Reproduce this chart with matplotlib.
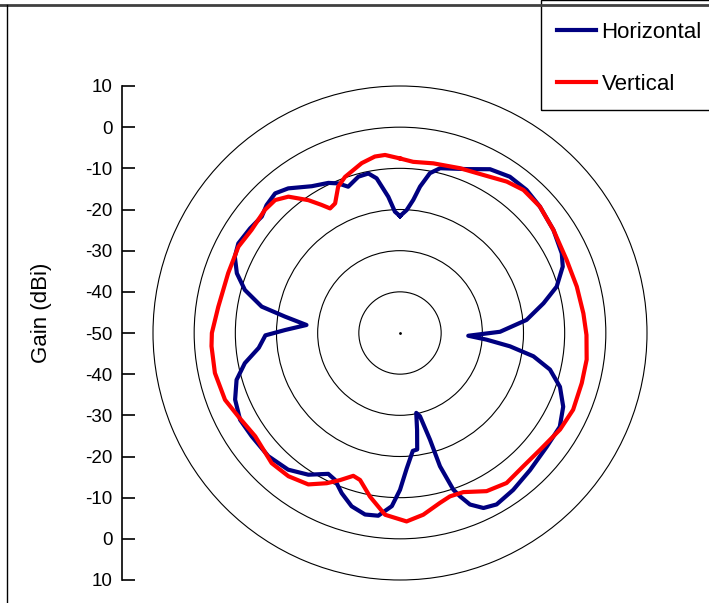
import numpy as np
import matplotlib
matplotlib.use("Agg")
import matplotlib.pyplot as plt
from matplotlib.lines import Line2D
from matplotlib.patches import Rectangle

plt.rcParams["font.family"] = ["Liberation Sans", "DejaVu Sans"]

# azimuth in degrees (0 = top, clockwise), gain in dBi
h_angle = [0, 3.1, 5.7, 7.8, 10.6, 13.7, 22.2, 28.8, 35.1, 41.5, 47.9, 56.1, 63.8,
           67.8, 73.5, 78.3, 84.1, 89.3, 92.3, 94.4, 96.9, 99.9, 103.7, 108.6,
           114.3, 120.4, 127.8, 136.5, 144.2, 150.6, 154.5, 157.8, 159.8, 161.2,
           163.3, 164.3, 166.5, 168.5, 170.0, 171.6, 173.8, 177.2, 180.0, 182.7,
           186.8, 190.9, 195.6, 200.0, 203.9, 207.0, 212.9, 219.3, 226.9, 235.1,
           241.5, 248.0, 254.0, 259.0, 264.0, 269.0, 271.5, 274.9, 278.1, 280.8,
           285.5, 290.1, 294.8, 299.0, 304.9, 310.1, 313.8, 318.2, 322.3, 329.0,
           334.5, 337.6, 340.5, 345.1, 348.8, 351.4, 355.1, 357.6, 360]
h_gain = [-21.6, -20.1, -17.5, -14.1, -10.5, -8.8, -7.0, -4.6, -3.6, -3.6, -4.2, -5.1, -6.2,
          -7.3, -10.3, -14.4, -19.1, -25.7, -33.4, -28.9, -23.1, -17.1, -12.5, -9.0,
          -6.5, -5.0, -4.9, -4.1, -3.0, -2.2, -2.9, -5.0, -7.7, -9.8,
          -16.2, -23.1, -29.2, -30.2, -26.1, -21.4, -21.2, -17.0, -11.9, -7.9,
          -5.3, -5.1, -6.3, -8.6, -11.0, -11.6, -9.0, -7.1, -6.2, -6.1,
          -5.8, -6.8, -8.7, -11.6, -15.5, -17.3, -22.1, -27.2, -21.8, -15.8,
          -10.9, -7.8, -5.8, -5.1, -5.6, -6.1, -5.1, -4.5, -5.6, -8.4,
          -9.6, -10.7, -12.3, -10.7, -10.5, -12.0, -16.8, -20.5, -21.6]

v_angle = [0, 4.4, 11.1, 20.0, 27.8, 35.2, 40.8, 47.9, 56.1, 66.3, 75.3, 83.9, 90.6,
           98.1, 105.4, 113.9, 121.1, 129.8, 137.2, 144.6, 151.3, 158.3, 163.0,
           166.8, 172.7, 178.0, 184.7, 190.4, 195.2, 198.1, 202.2, 206.0, 211.2,
           217.9, 224.6, 234.5, 242.7, 249.1, 257.8, 266.0, 270.0, 278.2, 289.2,
           298.1, 304.8, 312.3, 316.8, 320.7, 325.4, 328.5, 330.7, 333.4, 337.1,
           340.6, 347.3, 351.9, 355.2, 360]
v_gain = [-7.6, -8.3, -8.0, -7.4, -6.6, -5.0, -4.1, -4.2, -5.1, -5.8, -5.6, -5.2, -4.7,
          -4.2, -4.2, -4.0, -4.6, -5.7, -5.9, -5.3, -6.2, -8.4, -8.5,
          -7.6, -5.5, -4.2, -5.7, -9.6, -13.0, -13.5, -11.4, -9.4, -7.0,
          -5.9, -5.6, -6.8, -5.8, -4.5, -4.0, -4.1, -4.3, -5.4, -5.8,
          -5.5, -6.1, -5.6, -5.7, -7.2, -10.8, -13.5, -15.3, -14.8, -11.4,
          -9.8, -7.7, -6.7, -6.6, -7.6]

ring_levels = [-40, -30, -20, -10, 0]
r_min, r_max = -50, 10
scale_labels = ["10", "0", "-10", "-20", "-30", "-40", "-50",
                "-40", "-30", "-20", "-10", "0", "10"]

W, H = 709, 603
fig = plt.figure(figsize=(W / 100, H / 100), dpi=100)

# polar chart
ax = fig.add_axes([153 / W, 23 / H, 494 / W, 494 / H], projection="polar")
ax.set_theta_zero_location("N")
ax.set_theta_direction(-1)
ax.plot(np.radians(h_angle), h_gain, color="#000080", lw=3.0, label="Horizontal",
        solid_joinstyle="round")
ax.plot(np.radians(v_angle), v_gain, color="#FF0000", lw=3.0, label="Vertical",
        solid_joinstyle="round")
ax.plot([0], [r_min], "k.", ms=2)
ax.set_ylim(r_min, r_max)
ax.set_yticks(ring_levels)
ax.set_yticklabels([])
ax.set_xticks([])
ax.yaxis.grid(True, color="black", lw=0.8, solid_capstyle="butt")
ax.xaxis.grid(False)
ax.spines["polar"].set_color("black")
ax.spines["polar"].set_linewidth(0.8)
ax.spines["polar"].set_capstyle("butt")
for t in ax.yaxis.get_major_ticks() + ax.xaxis.get_major_ticks():
    t.tick1line.set_visible(False)
    t.tick2line.set_visible(False)

# left gain scale
ax2 = fig.add_axes([122 / W, 23 / H, 0.001, 494 / H])
ax2.set_ylim(-60, 60)
ax2.set_xticks([])
ax2.set_yticks(np.arange(60, -61, -10))
ax2.set_yticklabels(scale_labels)
for s in ["top", "right", "bottom"]:
    ax2.spines[s].set_visible(False)
ax2.spines["left"].set_linewidth(1.2)
ax2.tick_params(axis="y", direction="in", length=9, width=1.2, pad=7, labelsize=13.5)
ax2.patch.set_visible(False)

fig.text(41 / W, 1 - 313 / H, "Gain (dBi)", rotation=90, ha="center", va="center",
         fontsize=16)

# legend with its own box
fig.add_artist(Rectangle((541 / W, 1 - 110 / H), 200 / W, 110 / H,
                         transform=fig.transFigure, fill=False, ec="black", lw=1))
handles, labels = ax.get_legend_handles_labels()
fig.legend(handles, labels, loc="upper left", bbox_to_anchor=(557 / W, 1 - 22 / H),
           frameon=False, fontsize=16, handlelength=1.75, handletextpad=0.25,
           labelspacing=1.4, borderaxespad=0, borderpad=0)

# chart frame
fig.add_artist(Line2D([0, 1], [1 - 5 / H] * 2, transform=fig.transFigure,
                      color="#404040", lw=2))
fig.add_artist(Line2D([7 / W] * 2, [0, 1 - 5 / H], transform=fig.transFigure,
                      color="black", lw=1))

fig.savefig("out.png", dpi=100)
